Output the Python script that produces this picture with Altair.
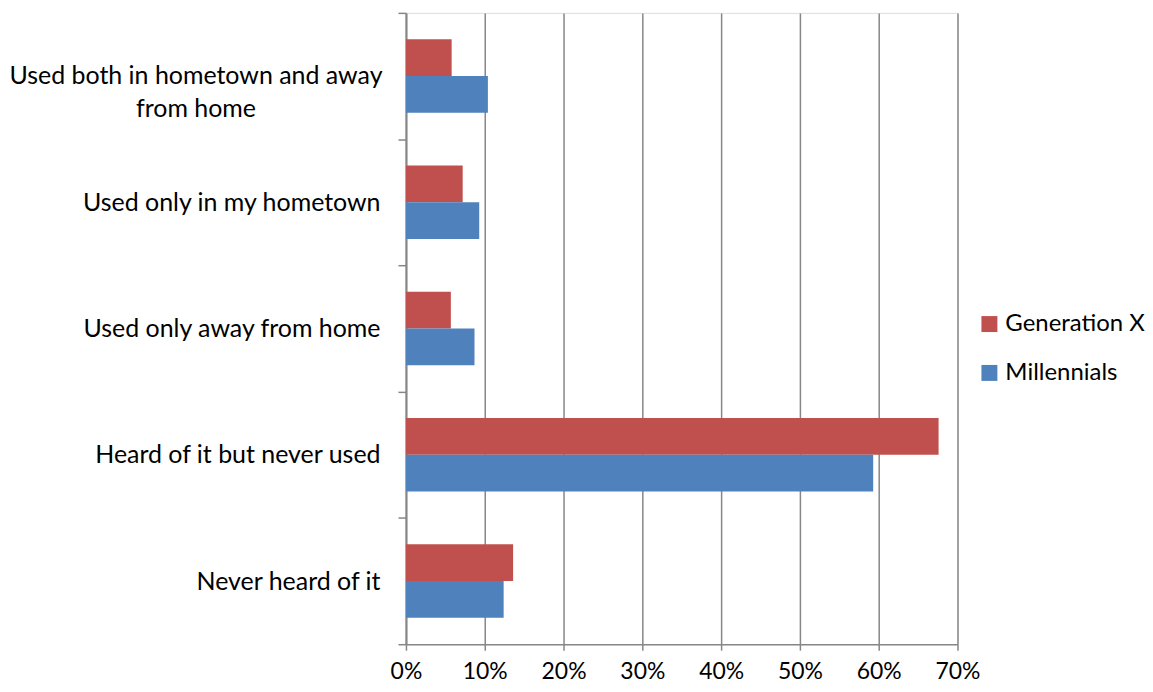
import altair as alt
import pandas as pd

categories = [
    "Used both in hometown and away from home",
    "Used only in my hometown",
    "Used only away from home",
    "Heard of it but never used",
    "Never heard of it",
]
series = ["Generation X", "Millennials"]
genx = [0.058, 0.072, 0.057, 0.676, 0.136]
mill = [0.104, 0.093, 0.087, 0.593, 0.124]
colors = ["#C0504D", "#4F81BD"]
x_ticks = [0, 0.1, 0.2, 0.3, 0.4, 0.5, 0.6, 0.7]

rows = []
for c, g, m in zip(categories, genx, mill):
    rows.append({"category": c, "series": series[0], "value": g})
    rows.append({"category": c, "series": series[1], "value": m})
df = pd.DataFrame(rows)

FONT = "Lato"
GRAY = "#878787"
LONG = categories[0]

label_expr = (
    "datum.label == '" + LONG + "' ? "
    "['Used both in hometown and away', 'from home'] : datum.label"
)
is_long = "datum.value == '" + LONG + "'"

chart = (
    alt.Chart(df)
    .mark_bar()
    .encode(
        x=alt.X(
            "value:Q",
            scale=alt.Scale(domain=[0, 0.7], nice=False),
            axis=alt.Axis(
                values=x_ticks,
                format=".0%",
                title=None,
                grid=True,
                gridColor=GRAY,
                gridWidth=1.5,
                domainColor=GRAY,
                domainWidth=1.5,
                tickColor=GRAY,
                tickSize=6,
                tickWidth=1.5,
                labelFont=FONT,
                labelFontSize=23,
                labelColor="#000000",
                labelPadding=10,
                labelFlush=False,
                labelOverlap=False,
            ),
        ),
        y=alt.Y(
            "category:N",
            sort=categories,
            scale=alt.Scale(paddingInner=0, paddingOuter=0),
            axis=alt.Axis(
                title=None,
                tickBand="extent",
                domainColor=GRAY,
                domainWidth=2,
                tickColor=GRAY,
                tickSize=8,
                tickWidth=1.5,
                labelFont=FONT,
                labelFontSize=25,
                labelColor="#000000",
                labelAlign={"condition": {"test": is_long, "value": "center"}, "value": "right"},
                labelPadding={"condition": {"test": is_long, "value": 203}, "value": 18},
                labelLimit=450,
                labelLineHeight=33,
                labelExpr=label_expr,
            ),
        ),
        yOffset=alt.YOffset(
            "series:N",
            sort=series,
            scale=alt.Scale(paddingInner=0, paddingOuter=0.72),
        ),
        color=alt.Color(
            "series:N",
            sort=series,
            scale=alt.Scale(domain=series, range=colors),
            legend=alt.Legend(
                title=None,
                orient="none",
                legendX=573,
                legendY=300,
                symbolType="square",
                symbolSize=256,
                symbolStrokeWidth=0,
                labelFont=FONT,
                labelFontSize=24,
                labelColor="#000000",
                rowPadding=25,
                labelOffset=4,
                labelLimit=300,
            ),
        ),
    )
    .properties(
        width=553,
        height=633,
        autosize=alt.AutoSizeParams(type="none"),
        padding={"left": 399, "top": 4, "right": 188, "bottom": 38},
    )
    .configure_view(stroke=None)
    .configure(background="#FFFFFF")
)

chart.save("out.html", embed_options={"renderer": "svg", "actions": False})
